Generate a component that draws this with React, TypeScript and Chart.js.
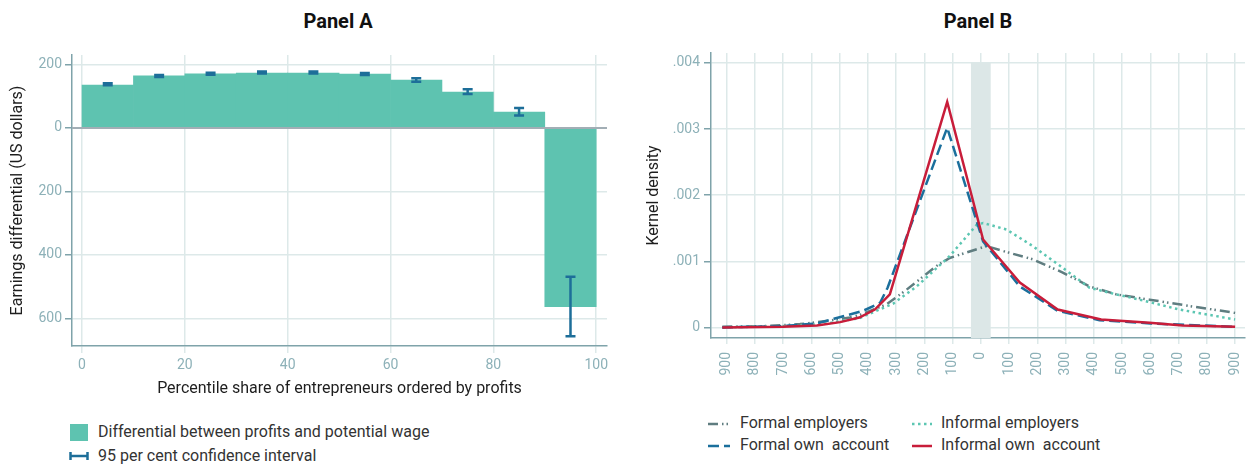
import React, { useEffect, useRef } from 'react';
import { Chart, registerables } from 'chart.js';

Chart.register(...registerables);

const FONT = 'Roboto, "Noto Sans", "DejaVu Sans", sans-serif';

// ---------- Panel A: earnings differential by profit decile ----------
const DECILE_MIDS = [5, 15, 25, 35, 45, 55, 65, 75, 85, 95];
const DIFFERENTIAL = [135, 164, 171, 173, 173, 170, 151, 113, 50, -563];
const CI_LOW = [135, 161, 168, 172, 172, 167, 146, 107, 39, -656];
const CI_HIGH = [141, 167, 174, 178, 178, 173, 157, 122, 63, -469];
const A_X_TICKS = [0, 20, 40, 60, 80, 100];
const A_Y_TICKS = [-600, -400, -200, 0, 200];

// ---------- Panel B: kernel densities of the differential ----------
const FORMAL_EMPLOYERS: [number, number][] = [
  [-915, 0.00001], [-760, 0.00002], [-640, 0.00005], [-540, 0.0001], [-463, 0.00015],
  [-420, 0.0002], [-333, 0.00035], [-263, 0.00057], [-157, 0.00093], [-110, 0.00105],
  [20, 0.00123], [91, 0.00114], [184, 0.00103], [290, 0.00083], [385, 0.00062],
  [479, 0.0005], [597, 0.00042], [774, 0.0003], [900, 0.00022],
];
const INFORMAL_EMPLOYERS: [number, number][] = [
  [-915, 0], [-700, 0.00002], [-560, 0.00005], [-430, 0.00014], [-310, 0.00036],
  [-227, 0.00062], [-110, 0.00108], [-15, 0.00155], [8, 0.00158], [91, 0.00148],
  [184, 0.00123], [268, 0.00097], [385, 0.0006], [479, 0.0005], [562, 0.00042],
  [703, 0.00027], [900, 0.00012],
];
const FORMAL_OWN: [number, number][] = [
  [-915, 0], [-700, 0.00002], [-580, 0.00006], [-520, 0.00013], [-417, 0.00025],
  [-357, 0.00037], [-330, 0.0006], [-119, 0.00302], [8, 0.0013], [138, 0.00062],
  [272, 0.00025], [420, 0.00011], [600, 0.00006], [900, 0.00001],
];
const INFORMAL_OWN: [number, number][] = [
  [-915, 0], [-700, 0.00001], [-580, 0.00003], [-498, 0.00008], [-430, 0.00015],
  [-375, 0.00027], [-322, 0.0005], [-119, 0.00341], [8, 0.00133], [138, 0.00068],
  [272, 0.00027], [426, 0.00012], [597, 0.00007], [714, 0.00003], [900, 0.00001],
];
const B_X_TICKS = [-900, -800, -700, -600, -500, -400, -300, -200, -100, 0, 100, 200, 300, 400, 500, 600, 700, 800, 900];
const B_Y_TICKS = [0, 0.001, 0.002, 0.003, 0.004];
const ZERO_BAND = [-35, 35];

// ---------- styling ----------
const GRID = '#dde9e9';
const AXIS = '#7fa3aa';
const TICK_TEXT = '#8db1b8';
const TITLE_TEXT = '#1e1e1e';
const LEGEND_TEXT = '#333333';
const BAR_COLOR = '#5ec3b0';
const CI_COLOR = '#1d6e99';
const BAND_COLOR = '#dce7e7';

const SERIES_STYLE = {
  formalEmployers: { color: '#5f7d80', dash: [10, 4, 1.5, 3, 1.5, 4] },
  informalEmployers: { color: '#5cc6b2', dash: [2.5, 3.5] },
  formalOwn: { color: '#1b6f9c', dash: [11, 5] },
  informalOwn: { color: '#c81d3a', dash: [] as number[] },
};

const toPoints = (arr: [number, number][]) => arr.map(([x, y]) => ({ x, y }));

// keep the plot area fixed: no extra room reserved for edge tick labels
const noEdgePadding = (s: any) => {
  s.paddingLeft = 0;
  s.paddingRight = 0;
  s.paddingTop = 0;
  s.paddingBottom = 0;
};

const ciPlugin = {
  id: 'ciBars',
  afterDatasetsDraw(chart: any) {
    const { ctx, scales, chartArea } = chart;
    const x = scales.x;
    const y = scales.y;
    ctx.save();
    // zero reference line
    const y0 = y.getPixelForValue(0);
    ctx.strokeStyle = '#a2aeb5';
    ctx.lineWidth = 2;
    ctx.beginPath();
    ctx.moveTo(chartArea.left, y0);
    ctx.lineTo(chartArea.right, y0);
    ctx.stroke();
    // confidence intervals
    ctx.strokeStyle = CI_COLOR;
    ctx.lineWidth = 2.5;
    DECILE_MIDS.forEach((m, i) => {
      const px = x.getPixelForValue(m);
      const lo = y.getPixelForValue(CI_LOW[i]);
      const hi = y.getPixelForValue(CI_HIGH[i]);
      ctx.beginPath();
      ctx.moveTo(px, lo);
      ctx.lineTo(px, hi);
      ctx.moveTo(px - 5, lo);
      ctx.lineTo(px + 5, lo);
      ctx.moveTo(px - 5, hi);
      ctx.lineTo(px + 5, hi);
      ctx.stroke();
    });
    ctx.restore();
  },
};

const bandPlugin = {
  id: 'zeroBand',
  beforeDatasetsDraw(chart: any) {
    const { ctx, scales, chartArea } = chart;
    const x0 = scales.x.getPixelForValue(ZERO_BAND[0]);
    const x1 = scales.x.getPixelForValue(ZERO_BAND[1]);
    const top = scales.y.getPixelForValue(B_Y_TICKS[B_Y_TICKS.length - 1]);
    ctx.save();
    ctx.fillStyle = BAND_COLOR;
    ctx.fillRect(x0, top, x1 - x0, chartArea.bottom - top);
    ctx.restore();
  },
};

const tickFont = { family: FONT, size: 14 };
const axisTitleFont = { family: FONT, size: 16 };

function LineSwatch({ color, dash, width = 22 }: { color: string; dash: number[]; width?: number }) {
  return (
    <svg width={width} height={10} style={{ position: 'absolute', left: 0, top: 6 }}>
      <line x1={0} y1={5} x2={width} y2={5} stroke={color} strokeWidth={2.5} strokeDasharray={dash.length ? dash.join(' ') : undefined} />
    </svg>
  );
}

export default function App() {
  const refA = useRef<HTMLCanvasElement>(null);
  const refB = useRef<HTMLCanvasElement>(null);

  useEffect(() => {
    Chart.defaults.font.family = FONT;

    const chartA = new Chart(refA.current!, {
      type: 'bar',
      data: {
        datasets: [
          {
            label: 'Differential between profits and potential wage',
            data: DECILE_MIDS.map((m, i) => ({ x: m, y: DIFFERENTIAL[i] })),
            backgroundColor: BAR_COLOR,
            borderWidth: 0,
            barPercentage: 1,
            categoryPercentage: 1,
          },
        ],
      },
      options: {
        animation: false,
        responsive: false,
        layout: { padding: { top: 55, right: 13, left: 0, bottom: 0 } },
        plugins: { legend: { display: false }, tooltip: { enabled: false }, title: { display: false } },
        scales: {
          x: {
            type: 'linear',
            offset: false,
            min: -1.95,
            max: 102.1,
            afterBuildTicks: (s: any) => { s.ticks = A_X_TICKS.map((v) => ({ value: v })); },
            afterFit: (s: any) => { s.height = 59; noEdgePadding(s); },
            ticks: { font: tickFont, color: TICK_TEXT, padding: 4, maxRotation: 0, callback: (v: any) => String(v) },
            grid: { offset: false, color: GRID, tickColor: GRID, tickLength: 7, lineWidth: 1.5 },
            border: { color: AXIS, width: 1.5 },
            title: {
              display: true,
              text: 'Percentile share of entrepreneurs ordered by profits',
              font: axisTitleFont,
              color: TITLE_TEXT,
              padding: { top: 0, bottom: 6 },
            },
          },
          y: {
            type: 'linear',
            min: -687,
            max: 230,
            afterBuildTicks: (s: any) => { s.ticks = A_Y_TICKS.map((v) => ({ value: v })); },
            afterFit: (s: any) => { s.width = 72; noEdgePadding(s); },
            ticks: { font: tickFont, color: TICK_TEXT, padding: 3, callback: (v: any) => String(Math.abs(Number(v))) },
            grid: { color: GRID, tickColor: AXIS, tickLength: 7, lineWidth: 1.5 },
            border: { color: AXIS, width: 1.5 },
            title: {
              display: true,
              text: 'Earnings differential (US dollars)',
              font: axisTitleFont,
              color: TITLE_TEXT,
              padding: { top: 8, bottom: 0 },
            },
          },
        },
      },
      plugins: [ciPlugin],
    } as any);

    const line = (label: string, pts: [number, number][], style: { color: string; dash: number[] }, order: number) => ({
      label,
      data: toPoints(pts),
      borderColor: style.color,
      backgroundColor: style.color,
      borderDash: style.dash,
      borderWidth: 2.5,
      pointRadius: 0,
      tension: 0,
      fill: false,
      order,
    });

    const chartB = new Chart(refB.current!, {
      type: 'line',
      data: {
        datasets: [
          line('Formal employers', FORMAL_EMPLOYERS, SERIES_STYLE.formalEmployers, 3),
          line('Informal employers', INFORMAL_EMPLOYERS, SERIES_STYLE.informalEmployers, 2),
          line('Formal own  account', FORMAL_OWN, SERIES_STYLE.formalOwn, 1),
          line('Informal own  account', INFORMAL_OWN, SERIES_STYLE.informalOwn, 0),
        ],
      },
      options: {
        animation: false,
        responsive: false,
        layout: { padding: { top: 53, right: 2, left: 0, bottom: 0 } },
        plugins: { legend: { display: false }, tooltip: { enabled: false }, title: { display: false } },
        scales: {
          x: {
            type: 'linear',
            min: -955,
            max: 935,
            afterBuildTicks: (s: any) => { s.ticks = B_X_TICKS.map((v) => ({ value: v })); },
            afterFit: (s: any) => { s.height = 62; noEdgePadding(s); },
            ticks: {
              font: tickFont,
              color: TICK_TEXT,
              padding: 8,
              minRotation: 90,
              maxRotation: 90,
              autoSkip: false,
              callback: (v: any) => String(Math.abs(Number(v))),
            },
            grid: { color: GRID, tickColor: GRID, tickLength: 6, lineWidth: 1.5 },
            border: { color: AXIS, width: 1.5 },
          },
          y: {
            type: 'linear',
            min: -0.00016,
            max: 0.00415,
            afterBuildTicks: (s: any) => { s.ticks = B_Y_TICKS.map((v) => ({ value: v })); },
            afterFit: (s: any) => { s.width = 75; noEdgePadding(s); },
            ticks: {
              font: tickFont,
              color: TICK_TEXT,
              padding: 4,
              callback: (v: any) => (Number(v) === 0 ? '0' : Number(v).toFixed(3).replace(/^0/, '')),
            },
            grid: { color: GRID, tickColor: AXIS, tickLength: 7, lineWidth: 1.5 },
            border: { color: AXIS, width: 1.5 },
            title: {
              display: true,
              text: 'Kernel density',
              font: axisTitleFont,
              color: TITLE_TEXT,
              padding: { top: 8, bottom: 0 },
            },
          },
        },
      },
      plugins: [bandPlugin],
    } as any);

    return () => {
      chartA.destroy();
      chartB.destroy();
    };
  }, []);

  const legendText: React.CSSProperties = {
    position: 'absolute',
    fontFamily: FONT,
    fontSize: 16,
    lineHeight: '20px',
    color: LEGEND_TEXT,
    whiteSpace: 'pre',
  };
  const panelTitle: React.CSSProperties = {
    position: 'absolute',
    top: 10,
    width: 200,
    textAlign: 'center',
    fontFamily: FONT,
    fontWeight: 700,
    fontSize: 20,
    lineHeight: '22px',
    color: '#111',
  };

  return (
    <div style={{ position: 'absolute', left: 0, top: 0, width: 1247, height: 466, background: '#fff', overflow: 'hidden' }}>
      <div style={{ ...panelTitle, left: 238 }}>Panel A</div>
      <div style={{ ...panelTitle, left: 878 }}>Panel B</div>

      <div style={{ position: 'absolute', left: 0, top: 0, width: 620, height: 405 }}>
        <canvas ref={refA} width={620} height={405} style={{ width: 620, height: 405 }} />
      </div>
      <div style={{ position: 'absolute', left: 636, top: 0, width: 611, height: 400 }}>
        <canvas ref={refB} width={611} height={400} style={{ width: 611, height: 400 }} />
      </div>

      {/* Panel A legend */}
      <div style={{ position: 'absolute', left: 70, top: 424, width: 18, height: 17, background: BAR_COLOR }} />
      <div style={{ ...legendText, left: 98, top: 422 }}>Differential between profits and potential wage</div>
      <svg width={20} height={10} style={{ position: 'absolute', left: 69, top: 451 }}>
        <g stroke={CI_COLOR} strokeWidth={2.5}>
          <line x1={1} y1={5} x2={19} y2={5} />
          <line x1={1.5} y1={1} x2={1.5} y2={9} />
          <line x1={18.5} y1={1} x2={18.5} y2={9} />
        </g>
      </svg>
      <div style={{ ...legendText, left: 98, top: 446 }}>95 per cent confidence interval</div>

      {/* Panel B legend */}
      <div style={{ position: 'absolute', left: 708, top: 413, width: 200, height: 20 }}>
        <LineSwatch color={SERIES_STYLE.formalEmployers.color} dash={SERIES_STYLE.formalEmployers.dash} />
        <div style={{ ...legendText, left: 32, top: 0 }}>Formal employers</div>
      </div>
      <div style={{ position: 'absolute', left: 708, top: 435, width: 200, height: 20 }}>
        <LineSwatch color={SERIES_STYLE.formalOwn.color} dash={SERIES_STYLE.formalOwn.dash} />
        <div style={{ ...legendText, left: 32, top: 0 }}>Formal own  account</div>
      </div>
      <div style={{ position: 'absolute', left: 912, top: 413, width: 220, height: 20 }}>
        <LineSwatch color={SERIES_STYLE.informalEmployers.color} dash={SERIES_STYLE.informalEmployers.dash} width={20} />
        <div style={{ ...legendText, left: 29, top: 0 }}>Informal employers</div>
      </div>
      <div style={{ position: 'absolute', left: 912, top: 435, width: 220, height: 20 }}>
        <LineSwatch color={SERIES_STYLE.informalOwn.color} dash={SERIES_STYLE.informalOwn.dash} width={20} />
        <div style={{ ...legendText, left: 29, top: 0 }}>Informal own  account</div>
      </div>
    </div>
  );
}
